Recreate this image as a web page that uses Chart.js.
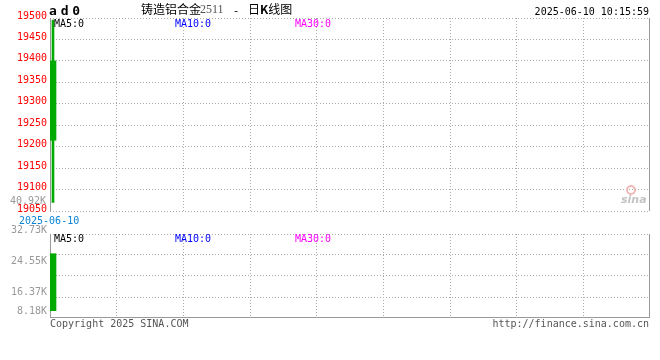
<!DOCTYPE html>
<html><head><meta charset="utf-8">
<script src="https://cdn.jsdelivr.net/npm/chart.js@4"></script>
<style>
body{margin:0;background:#fff;}
#wrap{position:relative;width:660px;height:360px;overflow:hidden;background:#fff;}
canvas{position:absolute;left:0;}
.t{position:absolute;white-space:nowrap;font-family:'DejaVu Sans Mono',monospace;font-size:10px;line-height:10px;}
</style></head><body>
<div id="wrap">
<canvas id="k" width="660" height="220" style="top:0;width:660px;height:220px"></canvas>
<canvas id="v" width="660" height="140" style="top:220px;width:660px;height:140px"></canvas>

<div class="t" style="left:49px;top:4px;font-size:13px;line-height:13px;font-weight:bold;letter-spacing:-2px;color:#000">a d 0</div>
<div class="t" style="left:141px;top:2px;font-family:'Noto Sans CJK SC';font-size:12px;line-height:14px;color:#000">铸造铝合金</div>
<div class="t" style="left:200px;top:3px;font-family:'Liberation Serif';font-size:12px;line-height:13px;color:#555">2511</div>
<div class="t" style="left:234px;top:3px;font-family:'Noto Sans CJK SC';font-size:12px;line-height:13px;color:#000">-</div>
<div class="t" style="left:248px;top:2px;font-family:'Noto Sans CJK SC';font-size:12px;line-height:14px;color:#000">日<b>K</b>线图</div>
<div class="t" style="right:11px;top:7px;color:#000">2025-06-10 10:15:59</div>

<div class="t" style="left:54px;top:19px;color:#000">MA5:0</div>
<div class="t" style="left:175px;top:19px;color:#0000ff">MA10:0</div>
<div class="t" style="left:295px;top:19px;color:#ff00ff">MA30:0</div>

<div class="t" style="right:614px;top:196px;color:#999">40.92K</div>
<div class="t" style="left:19px;top:216px;color:#0a84d6">2025-06-10</div>

<div class="t" style="left:54px;top:234px;color:#000">MA5:0</div>
<div class="t" style="left:175px;top:234px;color:#0000ff">MA10:0</div>
<div class="t" style="left:295px;top:234px;color:#ff00ff">MA30:0</div>

<div class="t" style="left:50px;top:319px;color:#555">Copyright 2025 SINA.COM</div>
<div class="t" style="right:11px;top:319px;color:#555">http://finance.sina.com.cn</div>

<div style="position:absolute;left:626px;top:185px;width:6px;height:6px;border:2px solid #f2b8b8;border-radius:50%;"></div>
<div class="t" style="left:621px;top:194px;font-family:'DejaVu Sans';font-size:11px;line-height:11px;font-weight:bold;font-style:italic;color:#c4c4c4">sina</div>
</div>
<script>
const categories = ['2025-06-10'];
const openPrice = [19400];
const closePrice = [19215];
const highPrice = [19495];
const lowPrice = [19070];
const volume = [25050];
const volumeFloor = [2850];
const priceTicks = [19050, 19100, 19150, 19200, 19250, 19300, 19350, 19400, 19450, 19500];
const volumeTicks = [0, 8180, 16370, 24550, 32730];
const volumeTickLabels = ['', '8.18K', '16.37K', '24.55K', '32.73K'];
const slotCount = 100;
const columns = 9;

const GREEN = '#00aa00';
const GRID = '#aaaaaa';
const FRAME = '#999999';
const MONO = "'DejaVu Sans Mono', monospace";

function xAxis() {
  return {
    type: 'linear', min: 0, max: slotCount, offset: false,
    afterBuildTicks: s => { s.ticks = Array.from({length: columns + 1}, (_, k) => ({value: k * slotCount / columns})); },
    ticks: {display: false},
    grid: {offset: false, color: c => (c.index === 0 || c.index === columns) ? 'rgba(0,0,0,0)' : GRID, drawTicks: false, lineWidth: 1},
    border: {display: false, dash: [1, 2]},
    afterFit: s => { s.height = 0; }
  };
}

function framePlugin(sides) {
  return {
    id: 'frame',
    beforeDatasetsDraw(c) {
      const {ctx, chartArea: a} = c;
      ctx.save();
      ctx.strokeStyle = FRAME; ctx.lineWidth = 1; ctx.setLineDash([]);
      ctx.beginPath();
      const L = Math.round(a.left) + 0.5, R = Math.round(a.right) - 0.5, B = Math.round(a.bottom) - 0.5;
      if (sides.includes('l')) { ctx.moveTo(L, a.top); ctx.lineTo(L, a.bottom); }
      if (sides.includes('r')) { ctx.moveTo(R, a.top); ctx.lineTo(R, a.bottom); }
      if (sides.includes('b')) { ctx.moveTo(a.left, B); ctx.lineTo(a.right, B); }
      ctx.stroke();
      ctx.restore();
    }
  };
}

const kData = categories.map((c, i) => ({x: i + 0.5, y: [lowPrice[i], highPrice[i]]}));
const bodyData = categories.map((c, i) => ({x: i + 0.5, y: [Math.min(openPrice[i], closePrice[i]), Math.max(openPrice[i], closePrice[i])]}));

new Chart(document.getElementById('k'), {
  type: 'bar',
  data: {
    datasets: [
      {data: kData, backgroundColor: GREEN, barThickness: 2, grouped: false, borderWidth: 0},
      {data: bodyData, backgroundColor: GREEN, barThickness: 6, grouped: false, borderWidth: 0}
    ]
  },
  options: {
    responsive: false, animation: false, devicePixelRatio: 1,
    layout: {padding: {top: 18, bottom: 7, left: 0, right: 10}},
    plugins: {legend: {display: false}, tooltip: {enabled: false}},
    scales: {
      x: xAxis(),
      y: {
        min: 19050, max: 19500,
        afterBuildTicks: s => { s.ticks = priceTicks.map(v => ({value: v})); },
        ticks: {color: '#ff0000', font: {family: MONO, size: 10}, padding: 3, labelOffset: -2, callback: v => String(v)},
        grid: {color: GRID, drawTicks: false},
        border: {display: false, dash: [1, 2]},
        afterFit: s => { s.width = 50; }
      }
    }
  },
  plugins: [framePlugin('lr')]
});

const volOffsets = [0, 14, 16, 6, -4];
const volLabelPlugin = {
  id: 'volLabels',
  afterDraw(c) {
    const {ctx} = c; const s = c.scales.y;
    ctx.save();
    ctx.font = '10px ' + MONO; ctx.fillStyle = '#999999'; ctx.textAlign = 'right'; ctx.textBaseline = 'middle';
    volumeTicks.forEach((v, i) => {
      if (!volumeTickLabels[i]) return;
      ctx.fillText(volumeTickLabels[i], 47, s.getPixelForValue(v) + volOffsets[i]);
    });
    ctx.restore();
  }
};

const volData = categories.map((c, i) => ({x: i + 0.5, y: [volumeFloor[i], volume[i]]}));

new Chart(document.getElementById('v'), {
  type: 'bar',
  data: {datasets: [{data: volData, backgroundColor: GREEN, barThickness: 6, grouped: false, borderWidth: 0}]},
  options: {
    responsive: false, animation: false, devicePixelRatio: 1,
    layout: {padding: {top: 14, bottom: 42, left: 0, right: 10}},
    plugins: {legend: {display: false}, tooltip: {enabled: false}},
    scales: {
      x: xAxis(),
      y: {
        min: 0, max: 32730,
        afterBuildTicks: s => { s.ticks = volumeTicks.map(v => ({value: v})); },
        ticks: {display: false},
        grid: {color: c => c.index === 0 ? 'rgba(0,0,0,0)' : GRID, drawTicks: false},
        border: {display: false, dash: [1, 2]},
        afterFit: s => { s.width = 50; }
      }
    }
  },
  plugins: [framePlugin('lrb'), volLabelPlugin]
});
</script>
</body></html>
